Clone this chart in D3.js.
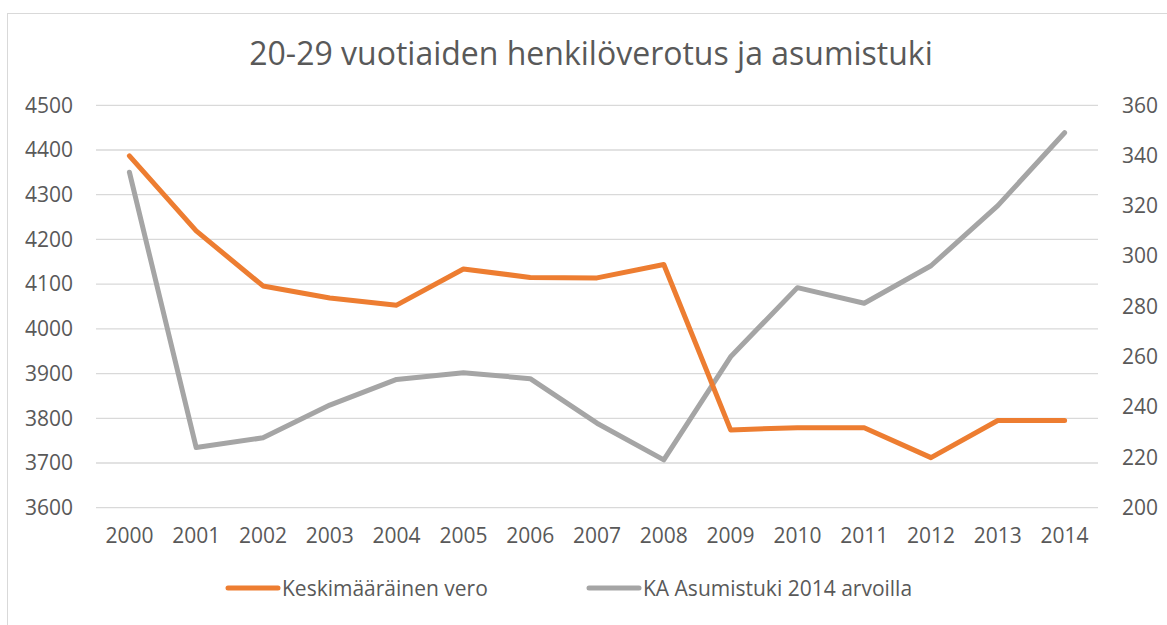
<!DOCTYPE html>
<html>
<head>
<meta charset="utf-8">
<script src="https://cdn.jsdelivr.net/npm/d3@7"></script>
<style>
  body { margin: 0; background: #fff; }
  text { font-family: "Open Sans", sans-serif; fill: #595959; }
</style>
</head>
<body>
<div id="chart"></div>
<script>
(function() {

  // chart data
  let years = ["2000", "2001", "2002", "2003", "2004", "2005", "2006", "2007",
               "2008", "2009", "2010", "2011", "2012", "2013", "2014"];
  let vero = [4387, 4219, 4096, 4069, 4053, 4134, 4115, 4114, 4144, 3774, 3779, 3779, 3712, 3795, 3795];
  let asumistuki = [333.4, 223.9, 227.8, 240.8, 251, 253.7, 251.3, 233.6, 219, 260, 287.5, 281.3, 296.2, 320.1, 349.1];
  let leftTicks = [3600, 3700, 3800, 3900, 4000, 4100, 4200, 4300, 4400, 4500];
  let rightTicks = [200, 220, 240, 260, 280, 300, 320, 340, 360];
  let title = "20-29 vuotiaiden henkilöverotus ja asumistuki";
  let seriesNames = ["Keskimääräinen vero", "KA Asumistuki 2014 arvoilla"];
  let colors = ["#ED7D31", "#A5A5A5"];

  let width = 1167;
  let height = 625;
  let plot = { left: 96, right: 1098, top: 105.3, bottom: 507.7 };

  window.onload = function() {

    let svg = d3.select("#chart")
      .append("svg")
        .attr("width", width)
        .attr("height", height);

    // chart area border (only top and left visible in reference)
    svg.append("rect")
      .attr("x", 7.5)
      .attr("y", 13.5)
      .attr("width", 1300)
      .attr("height", 800)
      .attr("fill", "none")
      .attr("stroke", "#d9d9d9")
      .attr("stroke-width", 1);

    // scales
    let xScale = d3.scaleBand()
      .domain(years)
      .range([plot.left, plot.right]);

    let yLeft = d3.scaleLinear()
      .domain([3600, 4500])
      .range([plot.bottom, plot.top]);

    let yRight = d3.scaleLinear()
      .domain([200, 360])
      .range([plot.bottom, plot.top]);

    // gridlines
    svg.append("g")
      .selectAll("line")
      .data(leftTicks)
      .enter()
      .append("line")
        .attr("x1", plot.left)
        .attr("x2", plot.right)
        .attr("y1", (d) => yLeft(d))
        .attr("y2", (d) => yLeft(d))
        .attr("stroke", "#d9d9d9")
        .attr("stroke-width", 1.3);

    // left axis
    let leftAxis = svg.append("g")
      .attr("transform", "translate(73, 0)")
      .call(d3.axisLeft(yLeft).tickValues(leftTicks).tickFormat(d3.format("d")).tickSize(0).tickPadding(0));
    leftAxis.select(".domain").remove();
    leftAxis.selectAll("text")
      .style("font-size", "21px")
      .style("font-family", "'Open Sans', sans-serif")
      .attr("fill", "#595959");

    // right axis
    let rightAxis = svg.append("g")
      .attr("transform", "translate(1122, 0)")
      .call(d3.axisRight(yRight).tickValues(rightTicks).tickFormat(d3.format("d")).tickSize(0).tickPadding(0));
    rightAxis.select(".domain").remove();
    rightAxis.selectAll("text")
      .style("font-size", "21px")
      .style("font-family", "'Open Sans', sans-serif")
      .attr("fill", "#595959");

    // x axis
    let xAxis = svg.append("g")
      .attr("transform", "translate(0, 528)")
      .call(d3.axisBottom(xScale).tickSize(0).tickPadding(0));
    xAxis.select(".domain").remove();
    xAxis.selectAll("text")
      .style("font-size", "21px")
      .style("font-family", "'Open Sans', sans-serif")
      .attr("fill", "#595959");

    // lines
    let xPos = (d, i) => xScale(years[i]) + xScale.bandwidth() / 2;

    let veroLine = d3.line()
      .x(xPos)
      .y((d) => yLeft(d));

    let tukiLine = d3.line()
      .x(xPos)
      .y((d) => yRight(d));

    svg.append("path")
      .attr("d", tukiLine(asumistuki))
      .attr("fill", "none")
      .attr("stroke", colors[1])
      .attr("stroke-width", 5)
      .attr("stroke-linejoin", "round")
      .attr("stroke-linecap", "round");

    svg.append("path")
      .attr("d", veroLine(vero))
      .attr("fill", "none")
      .attr("stroke", colors[0])
      .attr("stroke-width", 5)
      .attr("stroke-linejoin", "round")
      .attr("stroke-linecap", "round");

    // title
    svg.append("text")
      .attr("x", 591)
      .attr("y", 52)
      .attr("text-anchor", "middle")
      .attr("dominant-baseline", "central")
      .style("font-size", "32px")
      .text(title);

    // legend
    let legendX = [226, 587];
    let legend = svg.append("g")
      .selectAll("g")
      .data(seriesNames)
      .enter()
      .append("g")
        .attr("transform", (d, i) => "translate(" + legendX[i] + ", 588)");

    legend.append("line")
      .attr("x1", 2)
      .attr("x2", 52)
      .attr("y1", 0)
      .attr("y2", 0)
      .attr("stroke", (d, i) => colors[i])
      .attr("stroke-width", 5)
      .attr("stroke-linecap", "round");

    legend.append("text")
      .attr("x", 56)
      .attr("y", 0)
      .attr("dominant-baseline", "central")
      .style("font-size", "21px")
      .text((d) => d);
  }
})();
</script>
</body>
</html>
